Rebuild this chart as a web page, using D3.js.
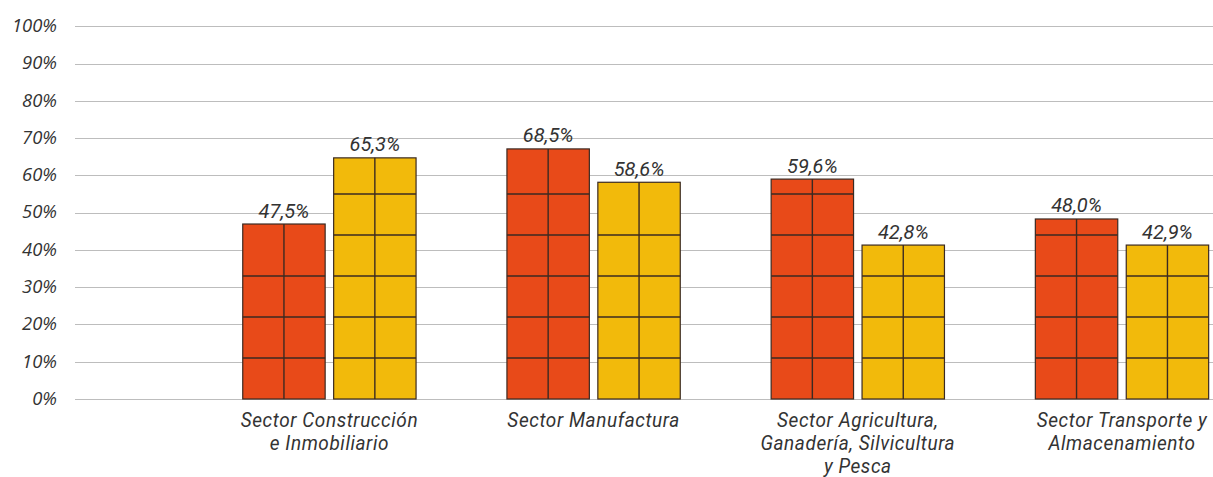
<!DOCTYPE html>
<html>
<head>
<meta charset="utf-8">
<script src="https://cdn.jsdelivr.net/npm/d3@7"></script>
<style>
  html, body { margin: 0; padding: 0; background: #ffffff; }
  svg { display: block; }
</style>
</head>
<body>
<svg id="chart" width="1213" height="477"></svg>
<script>
// ---- data ----
const categories = [
  "Sector Construcción|e Inmobiliario",
  "Sector Manufactura",
  "Sector Agricultura,|Ganadería, Silvicultura|y Pesca",
  "Sector Transporte y|Almacenamiento"
];
const seriesNames = ["A", "B"];
// values printed above bars
const labelA = [47.5, 68.5, 59.6, 48.0];
const labelB = [65.3, 58.6, 42.8, 42.9];
// bar heights as drawn in the picture (%)
const barA = [46.95, 67.1, 59.0, 48.3];
const barB = [64.7, 58.15, 41.3, 41.3];
const yTicks = [0, 10, 20, 30, 40, 50, 60, 70, 80, 90, 100];
const cellStep = 11; // pattern cell height in %

// ---- layout ----
const svg = d3.select("#chart");
const colors = { A: "#E84A19", B: "#F2BA0B" };
const stroke = "#3b2a22";

const y = d3.scaleLinear().domain([0, 100]).range([399, 26.3]);
const x0 = d3.scaleBand().domain(categories).range([197.3, 1254.1])
  .paddingInner(0.344).paddingOuter(0.172);
const x1 = d3.scaleBand().domain(seriesNames).range([0, x0.bandwidth()])
  .paddingInner(0.0935).paddingOuter(0);

function addText(g, x, yy, str, opts) {
  return g.append("text")
    .attr("transform", `translate(${x},${yy}) scale(${opts.sx},1)`)
    .attr("text-anchor", opts.anchor || "middle")
    .style("font-family", opts.family)
    .style("font-style", "italic")
    .style("font-size", opts.size + "px")
    .style("letter-spacing", (opts.ls || 0) + "px")
    .attr("fill", opts.fill || "#333333")
    .text(str);
}

// gridlines
const grid = svg.append("g");
grid.selectAll("line").data(yTicks).join("line")
  .attr("x1", 75).attr("x2", 1213)
  .attr("y1", d => Math.round(y(d)) + 0.5).attr("y2", d => Math.round(y(d)) + 0.5)
  .attr("stroke", "#bdbdbd").attr("stroke-width", 1);

// y labels
const yl = svg.append("g");
yTicks.forEach(t => {
  addText(yl, 57, y(t) + 5.8, t + "%", {
    sx: 0.97, family: "'Open Sans', 'Noto Sans', sans-serif", size: 19, anchor: "end", fill: "#333333"
  });
});

// bars
const fmt = v => v.toFixed(1).replace(".", ",") + "%";
const rows = [];
categories.forEach((c, i) => {
  rows.push({ cat: c, s: "A", v: barA[i], label: labelA[i] });
  rows.push({ cat: c, s: "B", v: barB[i], label: labelB[i] });
});

const bars = svg.append("g");
rows.forEach(r => {
  const bx = x0(r.cat) + x1(r.s);
  const bw = x1.bandwidth();
  const top = y(r.v), bot = y(0);
  const g = bars.append("g");
  g.append("rect")
    .attr("x", bx).attr("y", top).attr("width", bw).attr("height", bot - top)
    .attr("fill", colors[r.s]).attr("stroke", stroke).attr("stroke-width", 1.2);
  // horizontal cell lines
  const levels = [];
  for (let k = cellStep; k < r.v - 3.4; k += cellStep) levels.push(k);
  g.selectAll("line.h").data(levels).join("line").attr("class", "h")
    .attr("x1", bx).attr("x2", bx + bw)
    .attr("y1", d => y(d)).attr("y2", d => y(d))
    .attr("stroke", stroke).attr("stroke-width", 1.4);
  // vertical center line
  g.append("line")
    .attr("x1", bx + bw / 2).attr("x2", bx + bw / 2)
    .attr("y1", top).attr("y2", bot)
    .attr("stroke", stroke).attr("stroke-width", 1.4);
  // value label
  addText(g, bx + bw / 2, top - 6.5, fmt(r.label), {
    sx: 1.0, family: "Roboto, sans-serif", size: 20, fill: "#333333"
  });
});

// category labels
const cl = svg.append("g");
categories.forEach(c => {
  const cx = x0(c) + x0.bandwidth() / 2;
  c.split("|").forEach((line, j) => {
    addText(cl, cx, 427 + j * 23, line, {
      sx: 0.95, family: "Roboto, sans-serif", size: 20, ls: 0.6, fill: "#333333"
    });
  });
});
</script>
</body>
</html>
